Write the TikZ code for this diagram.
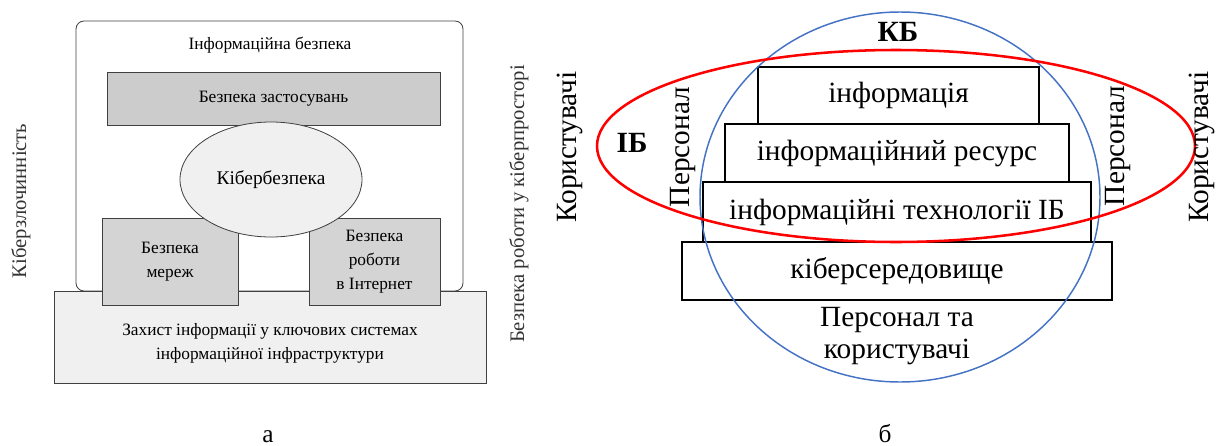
\documentclass[tikz,border=0pt]{standalone}
\usepackage{fontspec}
\setmainfont{Liberation Serif}
\usetikzlibrary{shapes.geometric}

\definecolor{kbblue}{RGB}{68,114,196}
\definecolor{boxgray}{RGB}{204,204,204}
\definecolor{lightgray}{RGB}{240,240,240}

\tikzset{
  lbox/.style={draw=black!75, line width=0.6pt, inner sep=0pt, align=center,
    font=\fontsize{13}{18}\selectfont},
  rbox/.style={draw=black, line width=1.9pt, fill=white, inner sep=0pt,
    font=\fontsize{22}{24}\selectfont},
  rtext/.style={font=\fontsize{22}{24}\selectfont, align=center},
  sidetext/.style={rotate=90, text=black!80, font=\fontsize{15.5}{18}\selectfont},
  caption/.style={anchor=base, inner sep=0pt, font=\fontsize{19}{21}\selectfont},
}

\begin{document}
\begin{tikzpicture}[x=0.75pt, y=-0.75pt]
  \useasboundingbox (0,0) rectangle (1217,446);

  % Left part: frame and blocks
  \node[lbox, rounded corners=6pt, minimum width=290.25pt, minimum height=202.5pt] (frame) at (269.5,156) {};
  \node[font=\fontsize{13}{15}\selectfont] (infosec) at (270,45) {Інформаційна безпека};
  \node[lbox, fill=boxgray, minimum width=249.75pt, minimum height=39.75pt] (apps) at (273.5,98.5) {Безпека застосувань};
  \node[lbox, fill=lightgray, minimum width=324pt, minimum height=69pt] (infra) at (270,337) {};
  \node[font=\fontsize{13}{18}\selectfont, align=center] (infratext) at (270,343)
    {Захист інформації у ключових системах\\інформаційної інфраструктури};
  \node[lbox, fill=boxgray!85, minimum width=102pt, minimum height=65.25pt] (nets) at (170,261.5) {Безпека\\мереж};
  \node[lbox, fill=boxgray!85, minimum width=98.25pt, minimum height=65.25pt] (web) at (374.5,261.5) {Безпека\\роботи\\в Інтернет};
  \node[lbox, ellipse, fill=lightgray, minimum width=136.5pt, minimum height=86.25pt,
    font=\fontsize{14.5}{17}\selectfont] (cyber) at (271,179.5) {Кібербезпека};

  % Side labels of the left part
  \node[sidetext] (crime) at (21,201) {Кіберзлочинність};
  \node[sidetext] (cyberwork) at (519,204) {Безпека роботи у кіберпросторі};

  % Right part: stacked levels
  \node[rbox, minimum width=210.75pt, minimum height=42.75pt] (info) at (898.5,95.5) {інформація};
  \node[rbox, minimum width=258pt, minimum height=43.5pt] (resource) at (897,153) {інформаційний ресурс};
  \node[rbox, minimum width=291pt, minimum height=45pt] (tech) at (897,212) {інформаційні технології ІБ};
  \node[rbox, minimum width=322.5pt, minimum height=43.5pt] (env) at (897,271) {кіберсередовище};

  % Draw the two ellipses
  \node[ellipse, draw=kbblue, line width=1.1pt, minimum width=300pt, minimum height=277.5pt] (kb) at (900,197) {};
  \node[ellipse, draw=red, line width=1.9pt, minimum width=448.5pt, minimum height=144pt] (ib) at (896,146) {};

  % Labels of the right part
  \node[rtext, font=\fontsize{22}{24}\selectfont\bfseries] (kblabel) at (898,32) {КБ};
  \node[rtext, font=\fontsize{22}{24}\selectfont\bfseries] (iblabel) at (632,143) {ІБ};
  \node[rtext, rotate=90] (staffl) at (683,147) {Персонал};
  \node[rtext, rotate=90] (staffr) at (1118,146) {Персонал};
  \node[rtext, rotate=90] (usersl) at (570,147) {Користувачі};
  \node[rtext, rotate=90] (usersr) at (1202,147) {Користувачі};
  \node[rtext] (staffusers) at (897,336) {Персонал та\\користувачі};

  % Captions
  \node[caption] (capa) at (268,442) {а};
  \node[caption] (capb) at (885,442) {б};
\end{tikzpicture}
\end{document}
